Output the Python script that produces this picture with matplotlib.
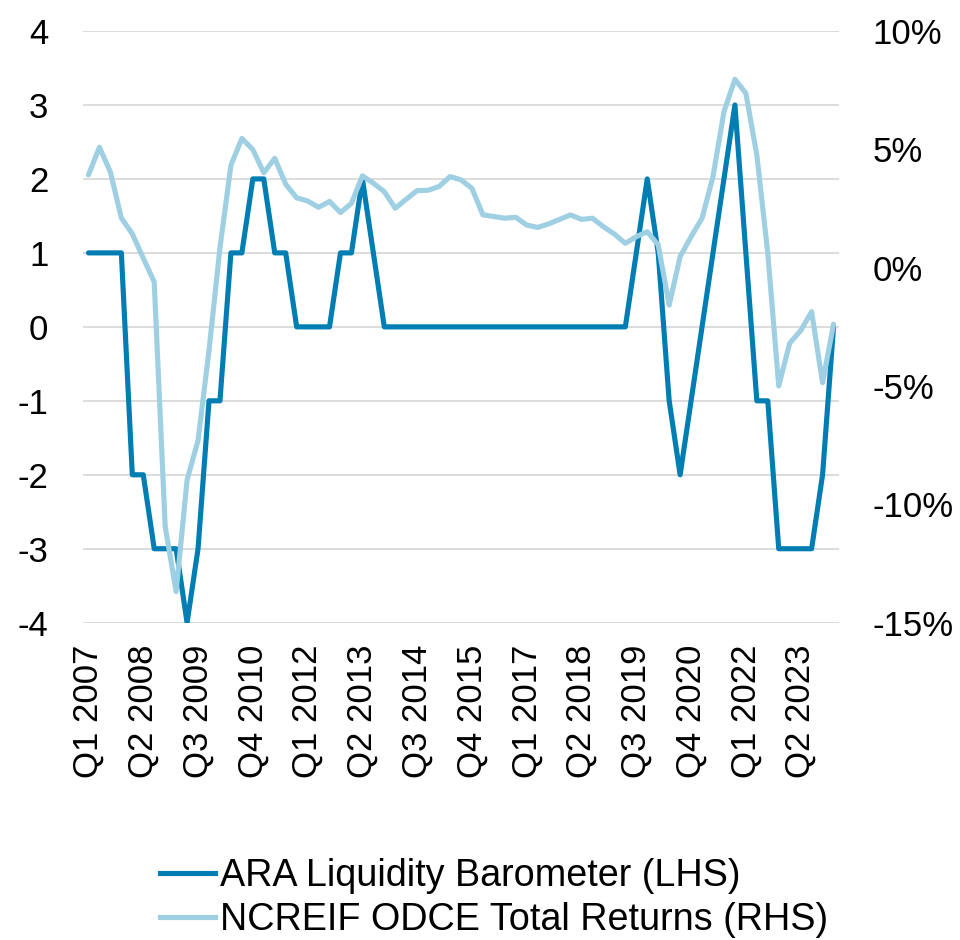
import matplotlib
matplotlib.use("Agg")
import matplotlib.pyplot as plt
from matplotlib.ticker import FixedLocator, FuncFormatter
from matplotlib.lines import Line2D

plt.rcParams['font.family'] = ['Liberation Sans', 'DejaVu Sans']
plt.rcParams['axes.unicode_minus'] = False

# Quarter categories Q1 2007 .. Q1 2024
years = list(range(2007, 2025))
quarters = [f"Q{q} {y}" for y in years for q in (1, 2, 3, 4)][:69]

# ARA Liquidity Barometer (LHS)
ara = [1, 1, 1, 1, -2, -2, -3, -3, -3, -4,
       -3, -1, -1, 1, 1, 2, 2, 1, 1, 0,
       0, 0, 0, 1, 1, 2, 1, 0, 0, 0,
       0, 0, 0, 0, 0, 0, 0, 0, 0, 0,
       0, 0, 0, 0, 0, 0, 0, 0, 0, 0,
       1, 2, 1, -1, -2, -1, 0, 1, 2, 3,
       1, -1, -1, -3, -3, -3, -3, -2, 0]

# NCREIF ODCE Total Returns (RHS), percent
odce = [3.92, 5.09, 4.04, 2.10, 1.43, 0.40, -0.60, -10.93, -13.69, -8.97,
        -7.30, -3.50, 0.84, 4.33, 5.46, 4.99, 4.01, 4.62, 3.53, 2.95,
        2.82, 2.55, 2.80, 2.33, 2.72, 3.88, 3.57, 3.21, 2.51, 2.89,
        3.26, 3.27, 3.43, 3.85, 3.71, 3.35, 2.23, 2.16, 2.09, 2.13,
        1.80, 1.70, 1.85, 2.04, 2.23, 2.04, 2.09, 1.73, 1.42, 1.03,
        1.31, 1.52, 0.96, -1.58, 0.47, 1.31, 2.09, 3.85, 6.59, 7.96,
        7.37, 4.76, 0.61, -5.00, -3.19, -2.66, -1.86, -4.86, -2.39]

left_ticks = [-4, -3, -2, -1, 0, 1, 2, 3, 4]
right_ticks = [-15, -10, -5, 0, 5, 10]
label_step = 5

dark = "#007DB3"
light = "#9ECFE3"
grid_c = "#D9D9D9"

fig = plt.figure(figsize=(9.6, 9.4), dpi=100)
ax = fig.add_axes([83/960, 1-622.7/940, (839-83)/960, (622.7-31)/940])
ax2 = ax.twinx()

x = list(range(len(quarters)))
ax.plot(x, ara, color=dark, lw=3.7, solid_joinstyle='round', solid_capstyle='round', zorder=3)
ax2.plot(x, odce, color=light, lw=3.7, solid_joinstyle='round', solid_capstyle='round', zorder=3)

ax.set_xlim(-0.5, len(quarters) - 0.5)
ax.set_ylim(-4, 4)
ax2.set_ylim(-15, 10)

ax.yaxis.set_major_locator(FixedLocator(left_ticks))
ax.set_yticklabels([str(t) for t in left_ticks])
ax2.yaxis.set_major_locator(FixedLocator(right_ticks))
ax2.yaxis.set_major_formatter(FuncFormatter(lambda v, p: f"{int(v)}%"))

xt = x[::label_step]
ax.set_xticks(xt)
ax.set_xticklabels([quarters[i] for i in xt], rotation=90)

ax.grid(axis='y', color=grid_c, lw=1.3)
ax.set_axisbelow(True)
for a in (ax, ax2):
    for s in a.spines.values():
        s.set_visible(False)
    a.tick_params(length=0)

ax.tick_params(axis='y', labelsize=25, pad=25)
ax.tick_params(axis='x', labelsize=25, pad=16)
ax2.tick_params(axis='y', labelsize=25, pad=24)
for lbl in ax.get_yticklabels():
    lbl.set_ha('right')

ax2.set_zorder(ax.get_zorder() + 1)
ax2.patch.set_visible(False)

handles = [Line2D([], [], color=dark, lw=3.7),
           Line2D([], [], color=light, lw=3.7)]
labels = ["ARA Liquidity Barometer (LHS)", "NCREIF ODCE Total Returns (RHS)"]
fig.legend(handles, labels, loc='center left', bbox_to_anchor=(160/960, 1-898/940),
           frameon=False, fontsize=27.2, handlelength=1.45, handletextpad=0.15,
           labelspacing=0.2, borderpad=0, borderaxespad=0)

fig.savefig("out.png", dpi=100, facecolor="white")
